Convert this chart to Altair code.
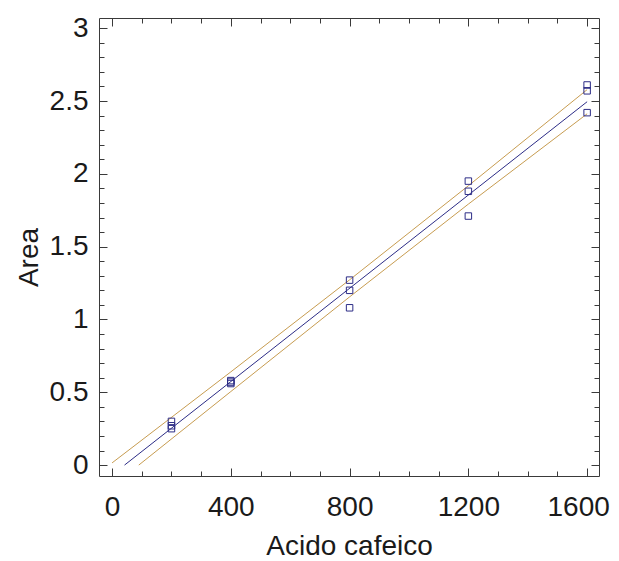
import altair as alt
import pandas as pd

# Observed data (Acido cafeico vs Area)
conc = [200, 200, 200, 400, 400, 400, 800, 800, 800, 1200, 1200, 1200, 1600, 1600, 1600]
area = [0.30, 0.27, 0.25, 0.58, 0.57, 0.56, 1.27, 1.20, 1.08, 1.95, 1.88, 1.71, 2.61, 2.57, 2.42]

# Fitted line and confidence limits
fit_x = [42, 1600]
fit_y = [0.0, 2.495]
upper_x = [0, 400, 800, 1200, 1600]
upper_y = [0.015, 0.64, 1.272, 1.918, 2.578]
lower_x = [90, 400, 800, 1200, 1600]
lower_y = [0.0, 0.505, 1.155, 1.792, 2.412]

# Tick positions / labels
x_major = [0, 400, 800, 1200, 1600]
x_labels_main = [0, 400, 800, 1200]
x_label_last = [1600]
x_minor = [100, 200, 300, 500, 600, 700, 900, 1000, 1100, 1300, 1400, 1500]
y_major = [0, 0.5, 1, 1.5, 2, 2.5, 3]
y_minor = [0.1, 0.2, 0.3, 0.4, 0.6, 0.7, 0.8, 0.9, 1.1, 1.2, 1.3, 1.4,
           1.6, 1.7, 1.8, 1.9, 2.1, 2.2, 2.3, 2.4, 2.6, 2.7, 2.8, 2.9]

FONT = "Liberation Sans"
TXT = "#1a1a1a"
FRAME = "#3a3a3a"
NAVY = "#2c2c86"
TAN = "#c79c50"

pts = pd.DataFrame({"x": conc, "y": area})
fit = pd.DataFrame({"x": fit_x, "y": fit_y})
upp = pd.DataFrame({"x": upper_x, "y": upper_y})
low = pd.DataFrame({"x": lower_x, "y": lower_y})

xs = alt.Scale(domain=[-44, 1640], nice=False, zero=False)
ys = alt.Scale(domain=[-0.075, 3.07], nice=False, zero=False)


def tick_axis(values, orient, size):
    return alt.Axis(orient=orient, values=values, labels=False, domain=False,
                    grid=False, ticks=True, tickSize=size, offset=-size,
                    tickColor=FRAME, tickWidth=1, title=None)


x_label_axis = alt.Axis(orient="bottom", values=x_labels_main, format="d",
                        ticks=False, tickSize=0, domain=False, grid=False,
                        labelFont=FONT, labelFontSize=28, labelColor=TXT,
                        labelPadding=17, labelFlush=False,
                        title="Acido cafeico", titleFont=FONT, titleFontSize=28,
                        titleFontWeight="normal", titleColor=TXT,
                        titleBaseline="alphabetic", titleY=78, titleX=250,
                        titleAlign="center")
x_last_axis = alt.Axis(orient="bottom", values=x_label_last, format="d",
                       ticks=False, tickSize=0, domain=False, grid=False,
                       labelFont=FONT, labelFontSize=28, labelColor=TXT,
                       labelPadding=17, labelFlush=False, labelOffset=-9,
                       title=None)
y_label_axis = alt.Axis(orient="left", values=y_major, format="~g",
                        ticks=False, tickSize=0, domain=False, grid=False,
                        labelFont=FONT, labelFontSize=28, labelColor=TXT,
                        labelPadding=11, labelFlush=False, labelBaseline="middle",
                        title="Area", titleFont=FONT, titleFontSize=28,
                        titleFontWeight="normal", titleColor=TXT,
                        titleAngle=270, titleBaseline="alphabetic",
                        titleAlign="center", titleX=-62, titleY=239)

upper_layer = alt.Chart(upp).mark_line(color=TAN, strokeWidth=1).encode(
    x=alt.X("x:Q", scale=xs, axis=tick_axis(x_minor, "bottom", 5)),
    y=alt.Y("y:Q", scale=ys, axis=tick_axis(y_minor, "left", 5)),
)
lower_layer = alt.Chart(low).mark_line(color=TAN, strokeWidth=1).encode(
    x=alt.X("x:Q", scale=xs, axis=tick_axis(x_major, "top", 8)),
    y=alt.Y("y:Q", scale=ys, axis=tick_axis(y_major, "right", 8)),
)
fit_layer = alt.Chart(fit).mark_line(color=NAVY, strokeWidth=1).encode(
    x=alt.X("x:Q", scale=xs, axis=tick_axis(x_major, "bottom", 8)),
    y=alt.Y("y:Q", scale=ys, axis=tick_axis(y_major, "left", 8)),
)
pts_layer = alt.Chart(pts).mark_point(shape="square", filled=False, size=42,
                                      color=NAVY, strokeWidth=1, opacity=1).encode(
    x=alt.X("x:Q", scale=xs, axis=x_label_axis),
    y=alt.Y("y:Q", scale=ys, axis=y_label_axis),
)
carrier = alt.Chart(pts).mark_point(opacity=0).encode(
    x=alt.X("x:Q", scale=xs, axis=tick_axis(x_minor, "top", 5)),
    y=alt.Y("y:Q", scale=ys, axis=tick_axis(y_minor, "right", 5)),
)
carrier2 = alt.Chart(pts).mark_point(opacity=0).encode(
    x=alt.X("x:Q", scale=xs, axis=x_last_axis),
    y=alt.Y("y:Q", scale=ys, axis=None),
)

chart = alt.layer(upper_layer, lower_layer, fit_layer, pts_layer, carrier, carrier2).resolve_axis(
    x="independent", y="independent"
).properties(
    width=500, height=458,
    autosize=alt.AutoSizeParams(type="none"),
    padding={"left": 91, "top": 10, "right": 12, "bottom": 95},
    background="white",
).configure_view(stroke=FRAME, strokeWidth=1)

chart.save("out.html", embed_options={"renderer": "svg", "actions": False})
